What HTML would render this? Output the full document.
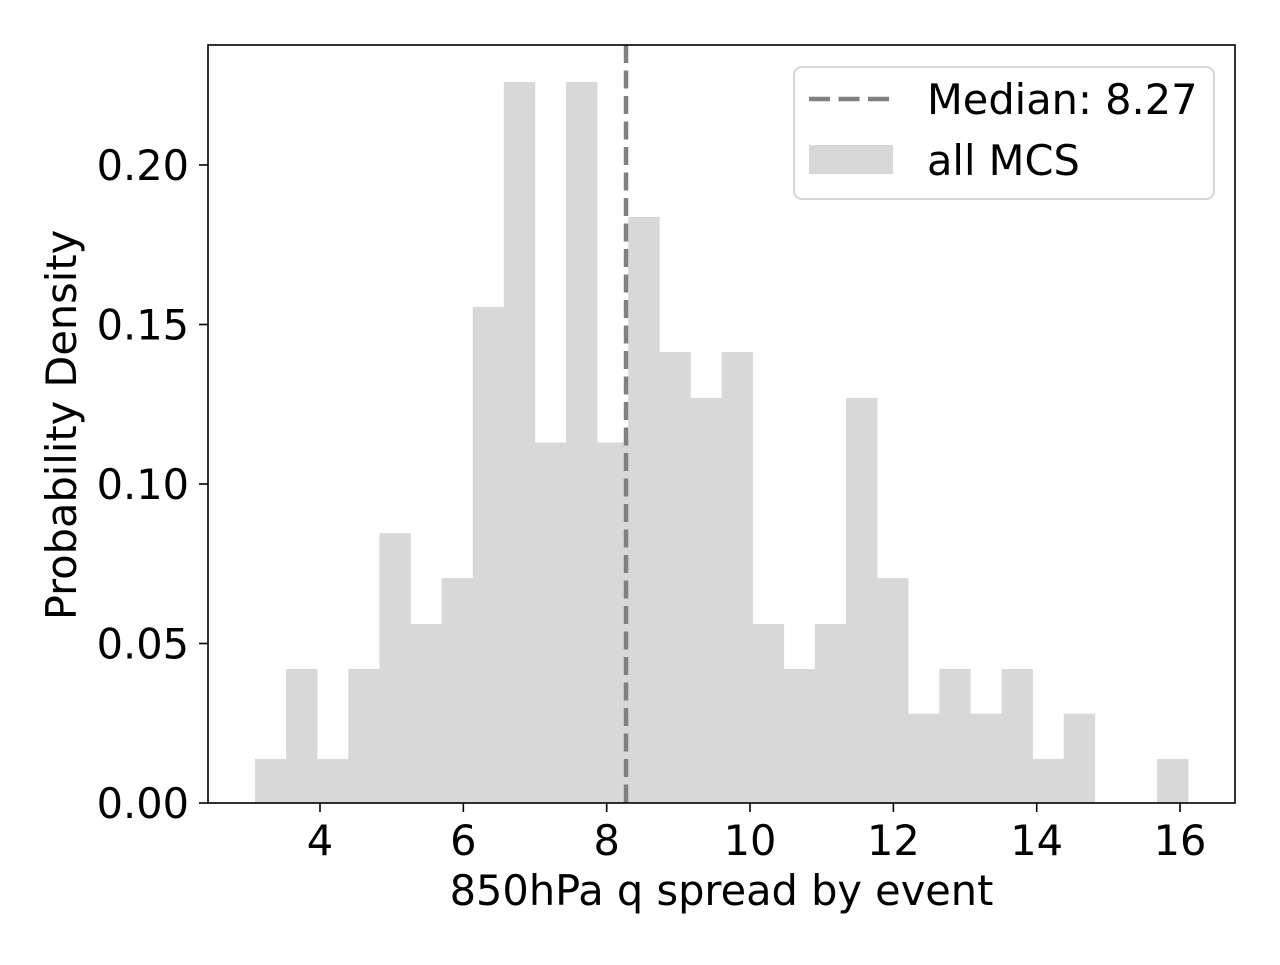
<!DOCTYPE html>
<html><head><meta charset="utf-8"><style>
body{margin:0;background:#fff;}
svg text{font-family:"DejaVu Sans","Liberation Sans",sans-serif;fill:#000;}
</style></head><body>
<svg id="chart" width="1280" height="960" xmlns="http://www.w3.org/2000/svg">
<rect width="1280" height="960" fill="#fff"/>
<g id="bars"></g>
<g id="median"></g>
<g id="axes"></g>
<g id="legend"></g>
</svg>
<script>
const binStart = 3.093;
const binWidth = 0.434;
const densities = [0.0138,0.042,0.0138,0.042,0.0846,0.0561,0.0705,0.1555,0.226,0.113,0.226,0.113,0.1837,0.1414,0.127,0.1414,0.0561,0.042,0.0561,0.127,0.0705,0.028,0.042,0.028,0.042,0.0138,0.028,0,0,0.0138];
const medianValue = 8.27;
const xTicks = [4,6,8,10,12,14,16];
const yTicks = [0,0.05,0.10,0.15,0.20];
const yTickLabels = ["0.00","0.05","0.10","0.15","0.20"];

const L=208,R=1235,T=45,B=803;
const FS=41.5;
const xs=v=>320+(v-4)*71.67;
const ys=v=>B-v*3190;
const NS="http://www.w3.org/2000/svg";
function mk(tag,attrs,parent){const e=document.createElementNS(NS,tag);for(const k in attrs)e.setAttribute(k,attrs[k]);parent.appendChild(e);return e;}
const gb=document.getElementById('bars');
densities.forEach((d,i)=>{
  const x0=xs(binStart+i*binWidth),x1=xs(binStart+(i+1)*binWidth);
  const r=mk('rect',{x:x0,y:ys(d),width:x1-x0+0.3,height:B-ys(d),fill:'#d8d8d8'},gb);
  
  
});
const gm=document.getElementById('median');
const ml=mk('line',{x1:xs(medianValue),x2:xs(medianValue),y1:T,y2:B,stroke:'#808080','stroke-width':4.5,'stroke-dasharray':'18,7.5'},gm);


const ga=document.getElementById('axes');
mk('rect',{x:L,y:T,width:R-L,height:B-T,fill:'none',stroke:'#000','stroke-width':1.6},ga);
xTicks.forEach(t=>{
  mk('line',{x1:xs(t),x2:xs(t),y1:B,y2:B+9,stroke:'#000','stroke-width':1.6},ga);
  const tx=mk('text',{x:xs(t),y:B+52,'text-anchor':'middle','font-size':FS},ga);
  tx.textContent=t;
  
  
});
yTicks.forEach((t,i)=>{
  mk('line',{x1:L-9,x2:L,y1:ys(t),y2:ys(t),stroke:'#000','stroke-width':1.6},ga);
  const tx=mk('text',{x:L-19,y:ys(t)+15,'text-anchor':'end','font-size':FS},ga);
  tx.textContent=yTickLabels[i];
  
  
});
const xl=mk('text',{x:(L+R)/2,y:905,'text-anchor':'middle','font-size':FS},ga);
xl.textContent='850hPa q spread by event';


const yl=mk('text',{x:0,y:0,'text-anchor':'middle','font-size':FS,transform:'translate(76,425) rotate(-90)'},ga);
yl.textContent='Probability Density';


const gl=document.getElementById('legend');
mk('rect',{x:794,y:67,width:420,height:132,rx:8,fill:'#fff','fill-opacity':0.8,stroke:'#d6d6d6','stroke-width':2},gl);
const le1=mk('line',{x1:809,x2:889,y1:99,y2:99,stroke:'#808080','stroke-width':4.5,'stroke-dasharray':'21,8.5'},gl);


const t1=mk('text',{x:927,y:114,'font-size':FS},gl);t1.textContent='Median: 8.27';


const le2=mk('rect',{x:809,y:145,width:84,height:29,fill:'#d8d8d8'},gl);


const t2=mk('text',{x:927,y:175,'font-size':FS},gl);t2.textContent='all MCS';


</script>
</body></html>
